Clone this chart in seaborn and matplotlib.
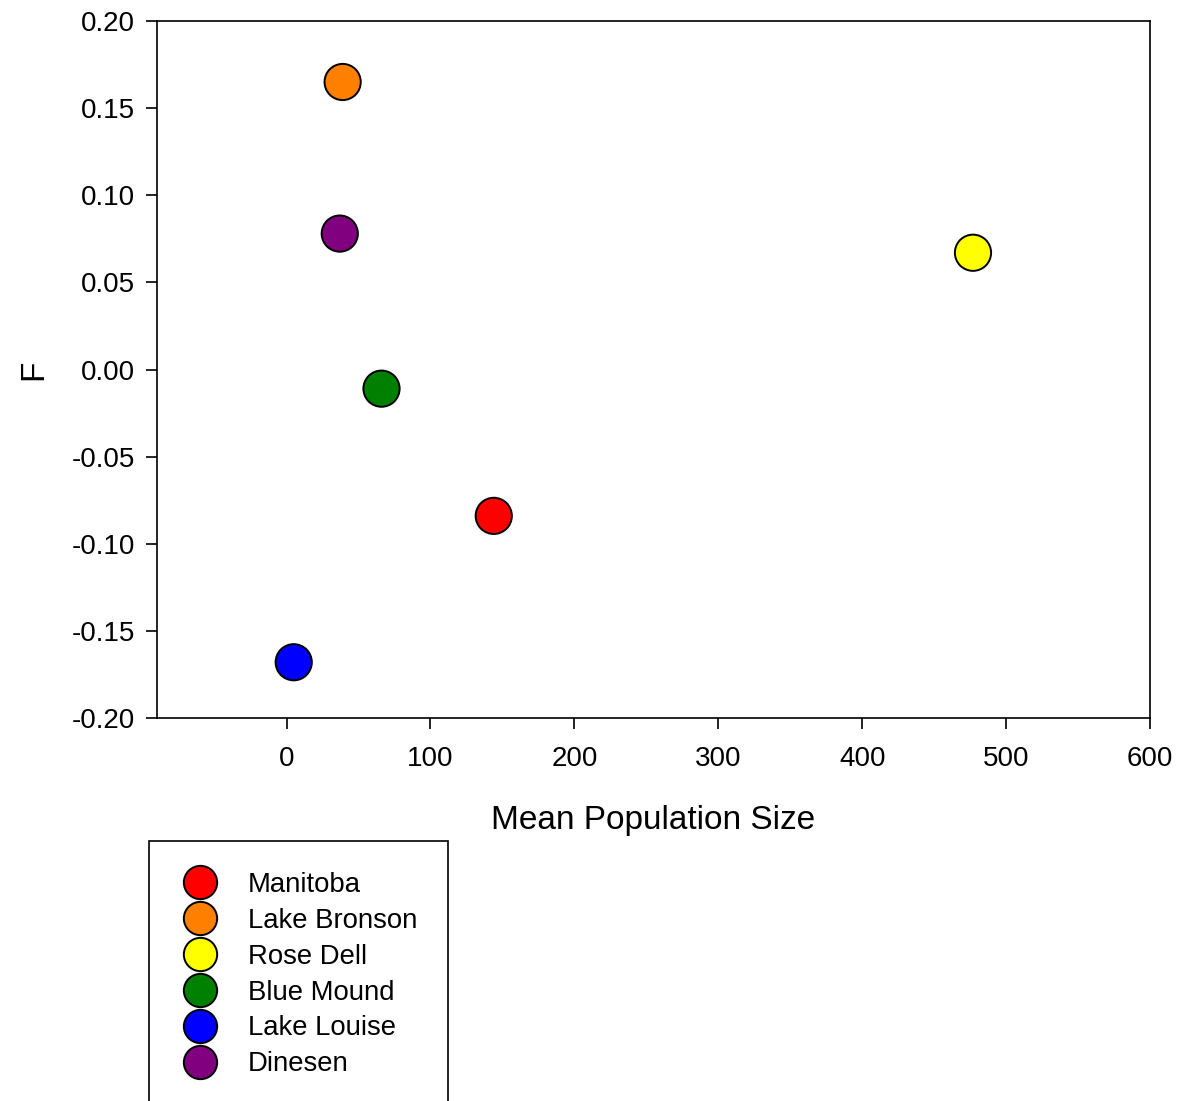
import matplotlib
matplotlib.use("Agg")
import matplotlib.pyplot as plt
import seaborn as sns
import pandas as pd

sites = ["Manitoba", "Lake Bronson", "Rose Dell", "Blue Mound", "Lake Louise", "Dinesen"]
mean_pop = [144, 39, 477, 66, 5, 37]
f_values = [-0.084, 0.165, 0.067, -0.011, -0.168, 0.078]
colors = ["#ff0000", "#ff8000", "#ffff00", "#008000", "#0000ff", "#800080"]

x_ticks = [0, 100, 200, 300, 400, 500, 600]
y_ticks = [-0.20, -0.15, -0.10, -0.05, 0.00, 0.05, 0.10, 0.15, 0.20]

sns.set_theme(style="white")
plt.rcParams["font.family"] = ["Liberation Sans", "DejaVu Sans"]
plt.rcParams["text.color"] = "black"
plt.rcParams["axes.labelcolor"] = "black"

df = pd.DataFrame({"Site": sites, "Mean Population Size": mean_pop, "F": f_values})

W, H = 1181, 1101
fig = plt.figure(figsize=(W / 100, H / 100), dpi=100)
ax = fig.add_axes([157 / W, 1 - 718 / H, (1150 - 157) / W, (718 - 21) / H])

sns.scatterplot(data=df, x="Mean Population Size", y="F", hue="Site",
                palette=dict(zip(sites, colors)), hue_order=sites,
                s=680, edgecolor="black", linewidth=1.4, ax=ax, legend=False, zorder=3)

ax.set_xlim(-90, 600)
ax.set_ylim(-0.20, 0.20)
ax.set_xticks(x_ticks)
ax.set_xticklabels([str(t) for t in x_ticks])
ax.set_yticks(y_ticks)
ax.set_yticklabels([f"{t:.2f}" for t in y_ticks])
ax.tick_params(axis="both", which="both", direction="out", length=8, width=1.2,
               labelsize=20, colors="black", bottom=True, left=True, top=False, right=False)
ax.tick_params(axis="x", pad=12)
ax.tick_params(axis="y", pad=8)
for sp in ax.spines.values():
    sp.set_visible(True)
    sp.set_color("black")
    sp.set_linewidth(1.2)

ax.set_xlabel("Mean Population Size", fontsize=24, labelpad=24, color="black")
ax.set_ylabel("F", fontsize=24, labelpad=16, color="black")

handles = [plt.Line2D([], [], marker="o", linestyle="none", markersize=24,
                      markerfacecolor=c, markeredgecolor="black", markeredgewidth=1.4)
           for c in colors]
leg = fig.legend(handles, sites, loc="upper left",
                 bbox_to_anchor=(149 / W, 1 - 841 / H), bbox_transform=fig.transFigure,
                 borderaxespad=0, fontsize=19.8, frameon=True, fancybox=False,
                 framealpha=1, edgecolor="black", borderpad=1.12, handlelength=1.45,
                 handletextpad=1.02, labelspacing=0.36, labelcolor="black")
leg.get_frame().set_linewidth(1.2)

fig.savefig("out.png", dpi=100)
